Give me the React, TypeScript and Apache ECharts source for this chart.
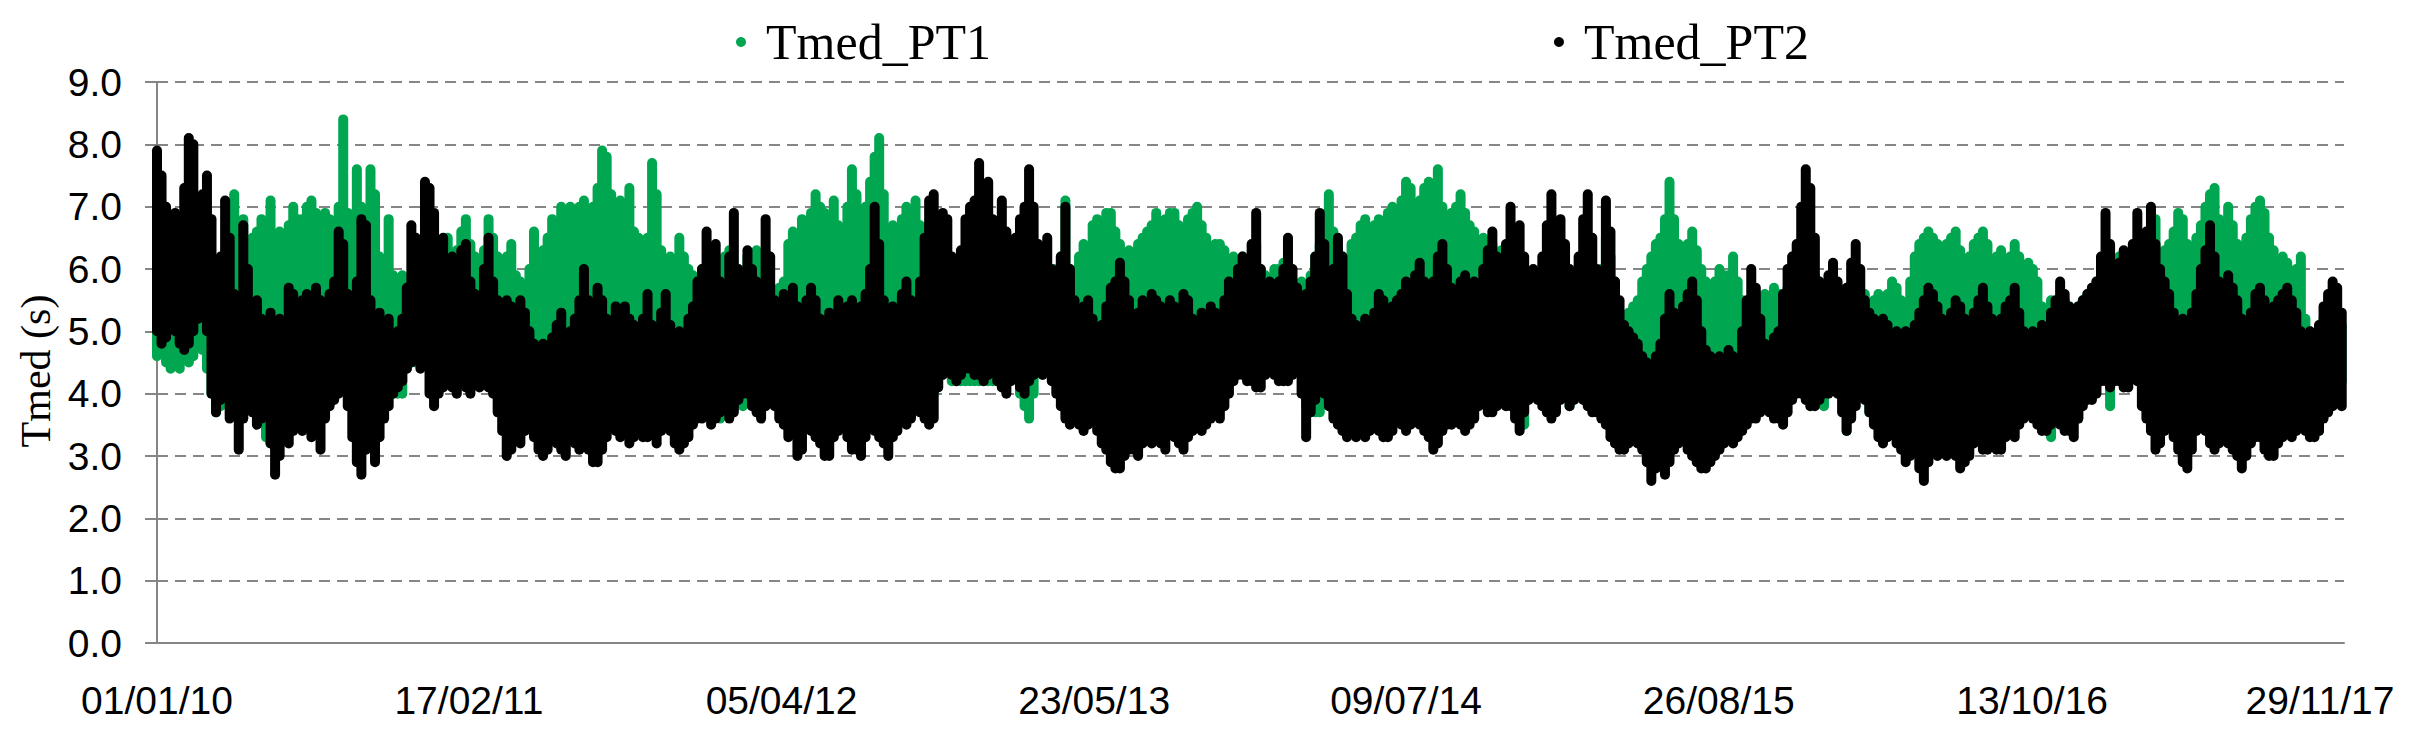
import React, { useEffect, useRef } from "react";
import * as echarts from "echarts";

// Columns sampled every STEP_DAYS days from 01/01/2010 (day 0).
const STEP_DAYS = 6;

// Tmed_PT2 (black): upper and lower edge of the point cloud per column, in tenths of a second
const pt2Hi = [
  79,75,70,67,69,66,73,81,80,70, 72,75,68,58,62,71,65,56,55,67,
  60,54,55,52,50,53,50,52,49,57, 56,53,55,56,52,57,55,53,56,58,
  66,64,56,54,58,68,67,55,52,53, 50,52,49,50,52,57,67,65,62,74,
  73,69,62,65,60,62,58,63,64,58, 56,55,60,65,58,55,53,55,54,52,
  55,53,50,48,47,48,47,49,51,53, 48,50,52,55,60,55,53,57,55,52,
  50,54,52,54,52,51,50,52,56,51, 50,53,56,51,48,50,47,52,54,58,
  60,66,60,64,58,56,62,69,60,57, 63,60,58,56,68,62,55,54,56,55,
  57,54,52,55,57,55,52,50,53,52, 55,53,54,55,52,54,56,60,70,64,
  55,52,54,53,56,58,55,53,58,65, 71,72,64,69,68,62,60,63,68,70,
  71,77,72,74,68,65,71,66,62,65, 68,70,76,70,64,62,65,60,58,62,
  70,60,55,53,54,55,52,50,51,54, 57,58,61,58,55,52,53,55,54,56,
  55,54,53,55,54,52,56,55,52,50, 53,52,54,53,51,55,58,57,60,62,
  60,64,69,60,57,58,56,58,60,65, 60,57,55,56,58,62,69,64,58,60,
  65,62,56,52,51,50,52,51,53,56, 55,53,54,55,56,58,57,59,61,58,
  56,58,62,64,60,57,56,58,59,57, 58,56,60,63,66,62,60,64,70,66,
  67,62,58,60,58,62,67,72,66,68, 64,60,58,62,68,72,65,60,58,71,
  66,58,55,51,50,49,48,46,45,44, 46,48,52,56,53,50,54,56,58,55,
  50,47,46,45,46,45,47,46,45,50, 55,60,57,52,48,47,49,50,56,60,
  62,64,70,76,73,65,58,56,59,61, 58,55,57,61,64,60,55,53,52,50,
  52,51,49,50,48,50,49,51,53,55, 57,56,54,52,50,53,55,54,52,51,
  53,55,57,54,52,50,52,54,55,57, 53,50,48,50,49,51,50,53,55,58,
  56,54,52,54,55,56,57,58,62,69, 64,60,61,63,60,64,69,65,66,70,
  64,60,58,56,53,50,52,50,53,56, 60,63,67,62,58,56,59,57,55,52,
  50,53,56,57,55,52,54,55,56,57, 55,53,50,49,50,48,51,54,56,58,
  57,53,
];
const pt2Lo = [
  50,48,49,52,50,48,47,48,50,52, 53,50,40,37,39,40,36,37,31,36,
  38,37,35,36,38,32,27,30,33,32, 34,36,34,37,33,36,31,36,38,39,
  40,42,38,33,29,27,31,33,29,33, 36,38,40,41,42,44,45,46,44,46,
  40,38,40,41,42,41,40,42,41,40, 42,41,42,41,40,37,34,30,31,35,
  32,34,35,33,31,30,31,33,32,31, 30,33,32,31,33,31,29,29,31,33,
  35,34,33,36,32,33,34,33,33,34, 32,34,36,34,32,31,32,33,35,36,
  36,37,35,36,37,38,36,37,39,40, 40,38,37,36,38,40,38,36,35,33,
  34,30,31,35,34,33,32,30,30,33, 34,35,33,31,31,30,33,35,34,33,
  32,30,33,34,36,35,36,38,37,36, 35,36,41,43,44,43,42,43,44,44,
  43,43,42,43,44,42,41,40,42,43, 41,40,42,43,44,43,44,42,40,38,
  36,35,36,35,34,35,36,34,32,31, 29,28,28,30,31,31,30,32,33,32,
  33,32,31,34,33,32,31,33,34,35, 34,35,36,37,36,38,40,42,43,43,
  42,42,41,41,43,44,43,42,42,42, 43,44,40,33,37,39,41,40,38,36,
  35,34,33,34,33,34,33,34,35,34, 33,33,34,36,35,34,35,36,35,34,
  33,31,32,34,35,35,36,35,34,35, 36,38,39,37,37,38,39,38,38,36,
  34,37,39,40,39,38,37,36,37,39, 40,38,39,40,39,38,37,37,36,35,
  33,32,31,31,32,33,32,31,29,26, 28,30,27,29,31,32,33,31,30,29,
  28,28,29,30,31,32,33,32,33,34, 35,36,36,37,38,37,36,36,35,37,
  39,40,40,39,38,38,39,40,40,41, 40,37,34,36,38,40,39,37,35,33,
  32,33,34,32,31,29,30,31,28,26, 29,31,30,32,30,31,30,28,29,30,
  32,33,31,31,32,31,31,33,34,33, 35,36,37,36,35,34,34,35,36,35,
  34,34,33,36,38,39,39,40,42,42, 41,42,42,41,41,43,42,38,36,34,
  31,32,34,35,33,31,29,28,31,34, 35,34,32,31,32,33,32,31,30,28,
  30,32,33,33,31,30,30,32,33,34, 33,34,35,34,33,33,34,36,37,38,
  39,38,
];

// Tmed_PT1 (green): upper and lower edge of the point cloud per column, in tenths of a second
const pt1Hi = [
  60,61,60,62,61,62,62,63,62,58, 58,57,58,58,60,62,66,72,66,68,
  62,65,66,68,67,71,64,66,65,67, 70,68,68,70,71,69,68,69,68,67,
  70,84,69,66,76,70,68,76,72,62, 60,68,59,58,59,57,58,58,58,59,
  60,61,62,61,65,62,63,66,68,64, 62,60,63,68,65,62,60,62,64,59,
  58,56,60,66,62,63,65,68,67,70, 69,70,68,70,71,69,70,73,79,78,
  72,70,71,68,73,66,65,64,65,77, 72,63,60,62,61,65,62,60,59,58,
  60,57,61,62,60,62,63,60,58,57, 62,61,63,60,58,57,56,57,58,64,
  66,65,68,66,69,72,70,69,68,71, 67,66,70,76,72,68,70,74,78,81,
  72,64,67,66,68,70,68,71,67,64, 62,60,60,60,61,60,60,62,61,62,
  62,61,60,62,61,60,61,60,60,61, 60,61,60,60,61,60,60,59,60,62,
  71,60,58,62,64,63,67,68,67,69, 69,66,64,62,63,62,64,65,66,67,
  69,66,68,69,69,67,66,68,69,70, 67,65,63,64,64,63,61,62,60,62,
  61,62,64,60,59,58,60,60,61,60, 58,57,58,57,59,62,64,65,72,66,
  63,62,61,64,65,67,68,66,67,68, 66,69,70,68,71,74,73,70,71,73,
  74,72,76,70,68,69,70,72,69,67, 66,64,65,63,64,62,63,61,60,61,
  58,56,55,57,56,55,54,56,57,56, 55,56,57,58,57,56,58,57,60,65,
  62,58,52,51,53,54,55,58,60,62, 64,65,68,74,68,64,62,64,66,63,
  60,58,57,58,60,59,59,62,58,55, 53,52,53,54,56,55,57,56,55,57,
  58,57,56,60,61,59,58,57,56,55, 57,56,55,54,56,55,56,54,55,56,
  55,56,58,57,55,53,58,62,64,65, 66,65,64,62,64,65,66,63,60,62,
  64,65,66,64,60,62,63,61,62,64, 62,60,61,60,58,54,53,55,54,55,
  55,54,53,54,55,56,57,58,59,60, 60,61,62,61,60,62,63,62,64,66,
  68,62,63,64,66,69,68,64,63,65, 67,70,72,73,68,66,70,67,64,62,
  65,68,70,71,69,65,63,61,62,61, 58,60,62,52,50,49,50,52,53,54,
  52,51,
];
const pt1Lo = [
  46,47,45,44,45,44,46,45,46,48, 47,44,40,37,38,40,42,40,38,40,
  41,40,39,36,33,32,32,34,37,37, 38,40,39,41,38,40,37,40,42,43,
  44,45,42,38,35,34,36,38,35,38, 40,41,40,40,40,44,45,45,45,45,
  44,42,44,45,46,45,44,46,45,44, 46,45,46,45,44,41,38,35,36,39,
  37,38,40,38,36,35,36,38,37,36, 35,37,36,36,37,36,34,34,36,38,
  39,38,38,40,37,38,38,37,38,38, 37,38,40,38,37,36,37,38,39,38,
  37,38,37,38,36,40,39,40,40,38, 42,41,40,39,41,43,41,40,39,38,
  38,35,36,39,38,38,37,35,35,37, 38,39,37,36,35,35,37,39,38,37,
  36,35,37,38,40,39,40,41,41,40, 39,40,44,45,46,42,42,42,42,42,
  42,42,42,42,42,42,42,42,43,44, 40,38,36,40,45,44,45,44,43,42,
  40,39,40,39,38,39,40,38,36,35, 34,33,33,34,35,35,35,36,37,36,
  37,36,35,38,37,36,35,37,38,39, 38,39,40,41,40,42,44,45,46,46,
  45,45,44,44,46,47,46,45,45,45, 46,47,44,38,38,37,37,44,42,40,
  39,38,37,38,37,38,37,38,39,38, 37,37,38,40,39,38,39,40,39,38,
  37,35,36,38,39,39,40,39,38,39, 40,42,43,41,41,42,43,42,42,40,
  37,35,40,43,42,42,41,40,41,42, 40,38,42,43,42,42,41,41,40,39,
  37,36,35,35,36,37,36,35,33,30, 32,34,31,33,35,36,37,35,34,33,
  32,32,33,34,35,36,37,36,37,38, 39,40,40,41,42,41,40,40,39,41,
  43,44,44,43,42,42,42,38,43,44, 43,41,34,38,41,43,42,37,39,37,
  36,37,38,36,35,33,34,35,32,30, 33,35,34,36,34,35,34,32,33,34,
  36,37,35,35,36,35,35,37,38,37, 39,40,41,40,39,38,37,33,38,39,
  38,38,37,36,40,42,42,43,45,45, 38,44,45,44,44,46,45,42,40,38,
  35,36,38,39,37,35,33,32,35,38, 39,38,36,35,36,37,36,35,34,32,
  34,36,37,37,35,34,34,36,37,38, 37,38,39,38,37,37,34,40,41,41,
  40,42,
];

// X axis: day offsets from 01/01/2010 and their labels
const xTickDays = [0, 412, 825, 1238, 1650, 2063, 2477, 2889];
const xTickLabels = ["01/01/10", "17/02/11", "05/04/12", "23/05/13", "09/07/14", "26/08/15", "13/10/16", "29/11/17"];
const xMaxDay = 2889;

const yMin = 0;
const yMax = 9;
const yInterval = 1;

const seriesNames = ["Tmed_PT1", "Tmed_PT2"];
const seriesColors = ["#00A650", "#000000"];

function buildColumns(lo: number[], hi: number[]) {
  return lo.map((l, i) => [i * STEP_DAYS, l / 10, hi[i] / 10]);
}

const DOT = 10;

function renderCloud(params: any, api: any) {
  const d = api.value(0);
  const lo = api.value(1);
  const hi = api.value(2);
  const top = api.coord([d, hi]);
  const bot = api.coord([d, lo]);
  return {
    type: "rect",
    shape: {
      x: top[0] - DOT / 2,
      y: top[1] - DOT / 2,
      width: DOT,
      height: bot[1] - top[1] + DOT,
      r: DOT / 2,
    },
    style: { fill: api.visual("color") },
  };
}

export default function App() {
  const ref = useRef<HTMLDivElement>(null);

  useEffect(() => {
    document.body.style.margin = "0";
    if (!ref.current) return;
    const chart = echarts.init(ref.current, undefined, { renderer: "svg" });

    const sansLabel = {
      fontFamily: "Liberation Sans",
      fontSize: 39,
      color: "#000000",
    };

    chart.setOption({
      animation: false,
      backgroundColor: "#ffffff",
      legend: {
        left: 731,
        top: 12,
        itemWidth: 10,
        itemHeight: 10,
        itemGap: 563,
        icon: "circle",
        data: seriesNames.map((n) => ({ name: n, icon: "circle" })),
        textStyle: {
          fontFamily: "Liberation Serif",
          fontSize: 50,
          color: "#000000",
          padding: [0, 0, 0, 15],
        },
      },
      grid: { left: 157, right: 70, top: 82, bottom: 98, containLabel: false },
      xAxis: {
        type: "value",
        min: 0,
        max: xMaxDay,
        axisLine: { show: true, onZero: false, lineStyle: { color: "#868686", width: 2 } },
        axisTick: { show: false },
        splitLine: { show: false },
        axisLabel: {
          ...sansLabel,
          margin: 38,
          customValues: xTickDays,
          showMinLabel: true,
          showMaxLabel: true,
          formatter: (v: number) => {
            const i = xTickDays.indexOf(Math.round(v));
            if (i < 0) return "";
            if (i === xTickDays.length - 1) return "{last|" + xTickLabels[i] + "}";
            return xTickLabels[i];
          },
          rich: {
            last: { ...sansLabel, padding: [0, 48, 0, 0] },
          },
        },
      },
      yAxis: {
        type: "value",
        min: yMin,
        max: yMax,
        interval: yInterval,
        name: "Tmed (s)",
        nameLocation: "middle",
        nameGap: 100,
        nameTextStyle: {
          fontFamily: "Liberation Serif",
          fontSize: 42,
          color: "#000000",
          padding: [0, 17, 0, 0],
        },
        axisLine: { show: true, lineStyle: { color: "#868686", width: 2 } },
        axisTick: { show: true, length: 12, lineStyle: { color: "#868686", width: 2 } },
        splitLine: { show: true, lineStyle: { color: "#868686", width: 2, type: [11, 7] } },
        axisLabel: {
          ...sansLabel,
          margin: 35,
          formatter: (v: number) => v.toFixed(1),
        },
      },
      series: [
        {
          name: seriesNames[0],
          type: "custom",
          renderItem: renderCloud,
          itemStyle: { color: seriesColors[0] },
          encode: { x: 0, y: [1, 2] },
          data: buildColumns(pt1Lo, pt1Hi),
        },
        {
          name: seriesNames[1],
          type: "custom",
          renderItem: renderCloud,
          itemStyle: { color: seriesColors[1] },
          encode: { x: 0, y: [1, 2] },
          data: buildColumns(pt2Lo, pt2Hi),
        },
      ],
    });

    return () => chart.dispose();
  }, []);

  return <div ref={ref} style={{ width: 2414, height: 741 }} />;
}
